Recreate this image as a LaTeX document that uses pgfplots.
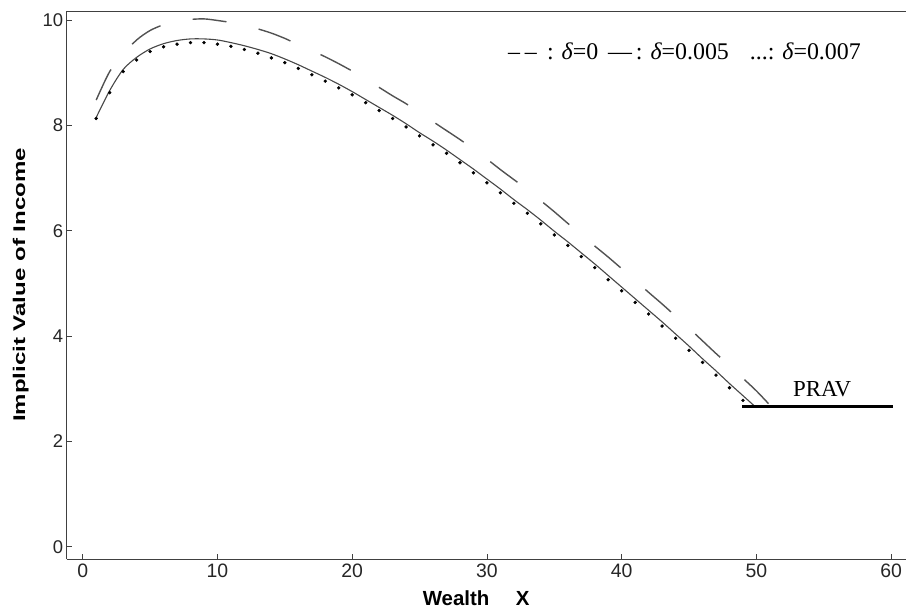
\documentclass[border=0pt]{standalone}
\usepackage{fontspec}
\setmainfont{Liberation Sans}
\newfontfamily\seriffont{Liberation Serif}
\usepackage{graphicx}
\usepackage{pgfplots}
\pgfplotsset{compat=1.18}

\begin{document}
\begin{tikzpicture}
\path[use as bounding box] (-66.7bp,-53bp) rectangle (839.3bp,559bp);
\begin{axis}[
  at={(0,0)}, anchor=south west,
  scale only axis, width=839bp, height=548bp,
  xmin=-1.19, xmax=61.08, ymin=-0.23, ymax=10.17,
  axis x line*=bottom, axis y line*=left,
  axis line style={line width=0.8bp, color=black!75},
  xtick={0,10,...,60}, ytick={0,2,...,10},
  tick align=inside, major tick length=5bp,
  tick style={black!75, line width=0.8bp},
  /pgf/number format/assume math mode=true,
  x tick label style={font=\fontsize{19.5}{19.5}\selectfont, yshift=-1bp, text=black!85},
  y tick label style={font=\fontsize{18.5}{18.5}\selectfont, text=black!85},
  xlabel={\fontsize{20.5}{20.5}\selectfont\bfseries Wealth\hspace{1.3em}X},
  xlabel style={at={(rel axis cs:0.488,0)}, anchor=center, yshift=-39bp},
  ylabel={\scalebox{1.42}[1]{\fontsize{17}{17}\selectfont\bfseries Implicit Value of Income}},
  ylabel style={at={(rel axis cs:0,0.5)}, anchor=center, yshift=46bp},
  clip=false,
]
\draw[line width=0.8bp, black!75] (rel axis cs:0,1) -- (rel axis cs:1,1);

% delta = 0 (dashed)
\addplot[color=black!68, line width=1.4bp, dash pattern=on 34bp off 33bp, smooth] coordinates {
(1,8.48) (2,9.02) (3,9.35) (4,9.62) (5,9.80) (6,9.91) (7,9.98) (8,10.01) (9,10.02) (10,9.99)
(11,9.95) (12,9.89) (13,9.83) (14,9.75) (15,9.65) (16,9.53) (17,9.42) (18,9.30) (19,9.17) (20,9.03)
(21,8.88) (22,8.72) (23,8.56) (24,8.41) (25,8.24) (26,8.07) (27,7.90) (28,7.73) (29,7.55) (30,7.36)
(31,7.16) (32,6.97) (33,6.78) (34,6.57) (35,6.36) (36,6.14) (37,5.93) (38,5.71) (39,5.50) (40,5.28)
(41,5.06) (42,4.83) (43,4.61) (44,4.38) (45,4.15) (46,3.91) (47,3.67) (48,3.44) (49,3.20) (50,2.96)
(51,2.69)
};

% delta = 0.005 (solid)
\addplot[color=black!72, line width=1.1bp, smooth] coordinates {
(1,8.15) (2,8.66) (3,9.06) (4,9.29) (5,9.45) (6,9.55) (7,9.61) (8,9.64) (9,9.64) (10,9.62)
(11,9.57) (12,9.51) (13,9.44) (14,9.36) (15,9.26) (16,9.15) (17,9.03) (18,8.91) (19,8.78) (20,8.64)
(21,8.49) (22,8.34) (23,8.19) (24,8.03) (25,7.86) (26,7.70) (27,7.53) (28,7.35) (29,7.17) (30,6.98)
(31,6.79) (32,6.59) (33,6.40) (34,6.20) (35,5.99) (36,5.79) (37,5.58) (38,5.37) (39,5.15) (40,4.93)
(41,4.71) (42,4.49) (43,4.27) (44,4.04) (45,3.81) (46,3.57) (47,3.34) (48,3.10) (49,2.87) (50,2.64)
};

% delta = 0.007 (dotted)
\addplot[only marks, mark=*, mark size=1.5bp, black] coordinates {
(1,8.13) (2,8.62) (3,9.02) (4,9.24) (5,9.40) (6,9.49) (7,9.54) (8,9.57) (9,9.57) (10,9.54)
(11,9.50) (12,9.44) (13,9.37) (14,9.28) (15,9.19) (16,9.08) (17,8.96) (18,8.84) (19,8.71) (20,8.58)
(21,8.43) (22,8.28) (23,8.13) (24,7.97) (25,7.80) (26,7.63) (27,7.47) (28,7.29) (29,7.10) (30,6.91)
(31,6.72) (32,6.52) (33,6.33) (34,6.13) (35,5.92) (36,5.72) (37,5.51) (38,5.30) (39,5.07) (40,4.86)
(41,4.64) (42,4.42) (43,4.19) (44,3.96) (45,3.73) (46,3.50) (47,3.26) (48,3.02) (49,2.78)
};

% PRAV
\addplot[black, line width=3bp] coordinates {(48.95,2.67) (60.1,2.67)};

\node[font=\seriffont\fontsize{23}{23}\selectfont, anchor=base, inner sep=0pt] at (axis cs:54.88,2.85) {PRAV};

\begin{scope}[every node/.style={font=\seriffont\fontsize{24}{24}\selectfont, anchor=base west, inner sep=0pt}]
\node at (axis cs:31.55,9.25) {–\kern5bp–};
\node at (axis cs:34.45,9.25) {: {\itshape δ}=0};
\node at (axis cs:38.97,9.25) {—\kern4bp: {\itshape δ}=0.005};
\node at (axis cs:49.5,9.25) {...: {\itshape δ}=0.007};
\end{scope}
\end{axis}
\end{tikzpicture}
\end{document}
